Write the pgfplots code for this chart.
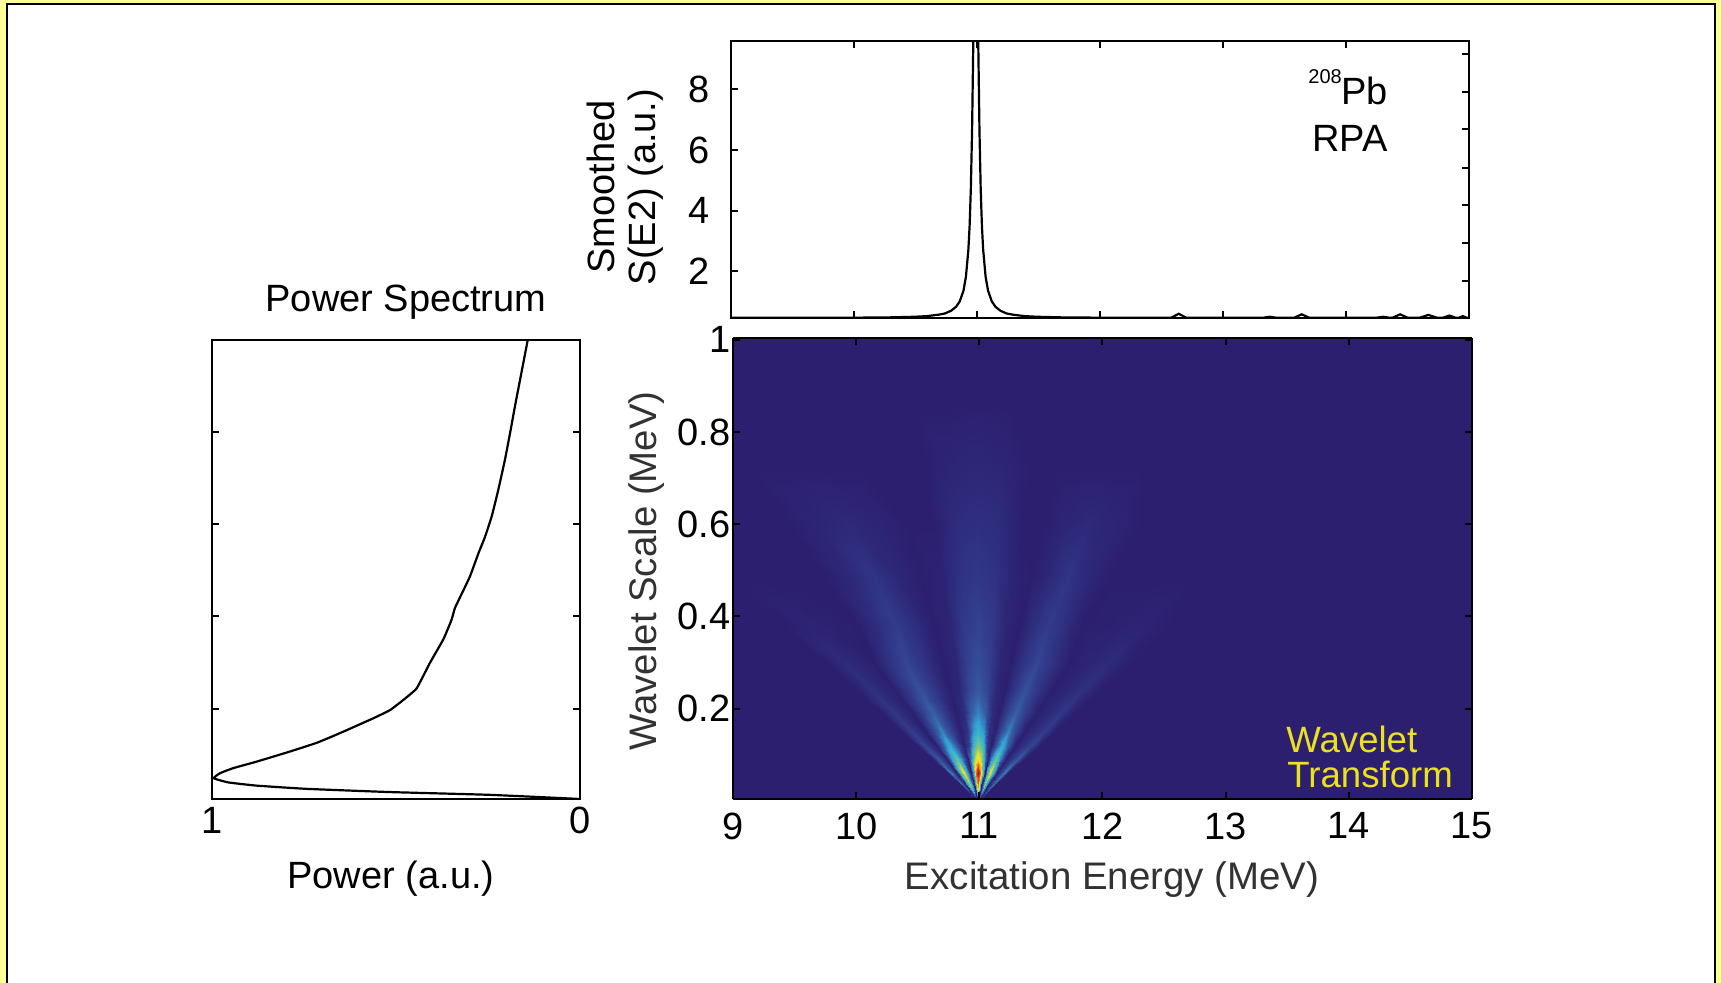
\documentclass[border=0pt]{standalone}
\usepackage{pgfplots}
\pgfplotsset{compat=1.18}
\usepackage{fontspec}
\setmainfont{Liberation Sans}
\definecolor{frameyellow}{RGB}{255,255,153}
\definecolor{heatbg}{RGB}{44,31,112}
\definecolor{blurtext}{RGB}{50,50,50}
\newcommand{\bigf}{\fontsize{19}{22}\selectfont}
\pgfplotsset{
  base/.style={
    scale only axis,
    axis line style={black,line width=1.3pt},
    tick style={black,line width=1pt},
    major tick length=3.5pt,
    tick align=inside,
    tick label style={font=\bigf},
    /pgf/number format/assume math mode=true,
  },
  colormap={heat}{
    rgb255(0pt)=(44,31,112);
    rgb255(1pt)=(50,60,140);
    rgb255(2pt)=(55,95,165);
    rgb255(3pt)=(50,160,215);
    rgb255(4pt)=(70,185,190);
    rgb255(5pt)=(125,195,130);
    rgb255(6pt)=(200,215,70);
    rgb255(7pt)=(245,230,40);
    rgb255(8pt)=(240,130,40);
    rgb255(9pt)=(220,50,40);
    rgb255(10pt)=(140,30,35)
  },
}
\begin{document}
\begin{tikzpicture}
\path[use as bounding box] (0,0) rectangle (860.5pt,491.5pt);
\begin{scope}[x=.5pt,y=-.5pt,yshift=491.5pt]
  \fill[frameyellow] (0,0) rectangle (1721,983);
  \fill[white] (6,4) rectangle (1715,983);
  \draw[black,line width=1pt] (6.5,983) -- (6.5,4.5) -- (1715,4.5) -- (1715,983);
\end{scope}

% top spectrum
\begin{axis}[base,at={(365.5pt,332.5pt)},anchor=south west,width=369pt,height=138.5pt,
  xmin=9,xmax=15,ymin=0.46,ymax=9.6,
  xtick={10,11,12,13,14},xticklabels={},
  yticklabel style={xshift=-7pt},
  ytick={2,4,6,8},ytick pos=left]
\addplot[black,line width=1.1pt,mark=none] coordinates {
(9,.47)(10,.47)(10.29,.48)(10.49,.50)(10.59,.52)(10.69,.57)(10.74,.61)(10.79,.70)(10.83,.83)(10.86,1.01)(10.89,1.36)(10.91,1.82)(10.93,2.72)(10.94,3.5)(10.95,4.73)(10.96,6.65)(10.97,9.6)(10.98,13.3)(10.99,15)(11.0,13.3)(11.01,9.6)(11.02,6.65)(11.03,4.73)(11.04,3.5)(11.05,2.72)(11.07,1.82)(11.09,1.36)(11.12,1.01)(11.15,.83)(11.19,.7)(11.24,.61)(11.29,.57)(11.39,.52)(11.49,.5)(11.69,.48)(12,.47)(12.58,.47)(12.64,.6)(12.70,.47)(13.33,.47)(13.38,.5)(13.43,.47)(13.58,.47)(13.64,.58)(13.7,.47)(14.25,.47)(14.3,.5)(14.35,.47)(14.38,.47)(14.44,.58)(14.5,.47)(14.6,.47)(14.67,.56)(14.74,.47)(14.79,.47)(14.84,.54)(14.89,.47)(14.92,.47)(14.95,.52)(14.98,.47)(15,.47)
};
\end{axis}
\begin{axis}[base,at={(365.5pt,332.5pt)},anchor=south west,width=369pt,height=138.5pt,
  xmin=9,xmax=15,ymin=0.46,ymax=9.6,
  xtick=\empty,
  ytick={1.69,2.92,4.19,5.4,6.68,7.91,9.18},yticklabels={},ytick pos=right]
\addplot[draw=none,forget plot] coordinates {(9,1)(15,1)};
\end{axis}

% left power spectrum
\begin{axis}[base,at={(106pt,92pt)},anchor=south west,width=184pt,height=229.5pt,
  x dir=reverse,xmin=0,xmax=1,ymin=0.004,ymax=1,
  xtick={0,1},xticklabels={0,1},
  xticklabel style={yshift=-.5pt},
  ytick={.2,.4,.6,.8},yticklabels={}]
\addplot[black,line width=1.1pt,mark=none,smooth,tension=0.25] coordinates {
(.142,1.0)(.163,.913)(.177,.855)(.19,.798)(.204,.74)(.222,.675)(.24,.617)(.258,.573)(.276,.537)(.299,.487)(.321,.45)(.34,.418)(.349,.393)(.371,.351)(.408,.299)(.444,.244)(.48,.219)(.516,.197)(.562,.179)(.652,.147)(.715,.126)(.788,.107)(.879,.085)(.942,.071)(.978,.06)(.995,.049)(.956,.04)(.879,.033)(.743,.026)(.516,.019)(.245,.013)(0,.004)
};
\end{axis}

% wavelet map
\begin{axis}[base,at={(366.5pt,92pt)},anchor=south west,width=369.5pt,height=230.5pt,
  view={0}{90},colormap name=heat,
  axis line style={black,line width=.9pt},
  xmin=9,xmax=15,ymin=0.004,ymax=1.004,
  point meta min=0,point meta max=1,
  axis background/.style={fill=heatbg},
  axis on top,
  xtick={9,10,11,12,13,14,15},
  xticklabel style={yshift=-3.3pt},
  yticklabel style={xshift=2.2pt},
  ytick={.2,.4,.6,.8,1},yticklabels={0.2,0.4,0.6,0.8,\raisebox{-1.5pt}{1}},
  ztick=\empty,
  clip=true]
\addplot3[surf,shader=interp,mesh/cols=21] coordinates {
(10.970,.005,0)(10.972,.005,.03)(10.974,.005,.015)(10.976,.005,0)(10.978,.005,.07)(10.980,.005,.12)(10.983,.005,.07)(10.985,.005,0)(10.987,.005,.12)(10.989,.005,.25)(10.990,.005,.3)(10.992,.005,.25)(10.993,.005,.12)(10.995,.005,0)(10.996,.005,.07)(10.998,.005,.12)(11.000,.005,.07)(11.003,.005,0)(11.005,.005,.015)(11.008,.005,.03)(11.011,.005,0)

(10.867,.03,0)(10.882,.03,.22)(10.894,.03,.11)(10.906,.03,0)(10.918,.03,.28)(10.932,.03,.5)(10.947,.03,.28)(10.962,.03,0)(10.972,.03,.31)(10.981,.03,.66)(10.99,.03,.78)(10.999,.03,.66)(11.008,.03,.31)(11.017,.03,0)(11.026,.03,.28)(11.038,.03,.5)(11.05,.03,.28)(11.065,.03,0)(11.082,.03,.11)(11.097,.03,.22)(11.113,.03,0)

(10.744,.06,0)(10.774,.06,.26)(10.798,.06,.13)(10.822,.06,0)(10.846,.06,.37)(10.873,.06,.68)(10.903,.06,.37)(10.933,.06,0)(10.954,.06,.4)(10.972,.06,.85)(10.99,.06,1)(11.008,.06,.85)(11.026,.06,.4)(11.044,.06,0)(11.062,.06,.37)(11.086,.06,.68)(11.11,.06,.37)(11.14,.06,0)(11.173,.06,.13)(11.203,.06,.26)(11.236,.06,0)

(10.621,.09,0)(10.666,.09,.18)(10.702,.09,.09)(10.738,.09,0)(10.774,.09,.26)(10.815,.09,.48)(10.86,.09,.26)(10.905,.09,0)(10.936,.09,.25)(10.963,.09,.6)(10.99,.09,.72)(11.017,.09,.6)(11.044,.09,.25)(11.071,.09,0)(11.098,.09,.26)(11.134,.09,.48)(11.17,.09,.26)(11.215,.09,0)(11.265,.09,.09)(11.31,.09,.18)(11.359,.09,0)

(10.498,.12,0)(10.558,.12,.13)(10.606,.12,.065)(10.654,.12,0)(10.702,.12,.18)(10.756,.12,.35)(10.816,.12,.18)(10.876,.12,0)(10.918,.12,.1)(10.954,.12,.4)(10.99,.12,.52)(11.026,.12,.4)(11.062,.12,.1)(11.098,.12,0)(11.134,.12,.18)(11.182,.12,.35)(11.23,.12,.18)(11.29,.12,0)(11.356,.12,.065)(11.416,.12,.13)(11.482,.12,0)

(10.375,.15,0)(10.45,.15,.1)(10.51,.15,.05)(10.57,.15,0)(10.63,.15,.13)(10.698,.15,.26)(10.773,.15,.13)(10.848,.15,0)(10.9,.15,.06)(10.945,.15,.28)(10.99,.15,.37)(11.035,.15,.28)(11.08,.15,.06)(11.125,.15,0)(11.17,.15,.13)(11.23,.15,.26)(11.29,.15,.13)(11.365,.15,0)(11.448,.15,.05)(11.523,.15,.1)(11.605,.15,0)

(10.211,.19,0)(10.306,.19,.08)(10.382,.19,.04)(10.458,.19,0)(10.534,.19,.1)(10.62,.19,.2)(10.715,.19,.1)(10.81,.19,0)(10.876,.19,.04)(10.933,.19,.19)(10.99,.19,.26)(11.047,.19,.19)(11.104,.19,.04)(11.161,.19,0)(11.218,.19,.1)(11.294,.19,.2)(11.37,.19,.1)(11.465,.19,0)(11.57,.19,.04)(11.665,.19,.08)(11.769,.19,0)

(10.006,.24,0)(10.126,.24,.06)(10.222,.24,.03)(10.318,.24,0)(10.414,.24,.08)(10.522,.24,.16)(10.642,.24,.08)(10.762,.24,0)(10.846,.24,.03)(10.918,.24,.13)(10.99,.24,.18)(11.062,.24,.13)(11.134,.24,.03)(11.206,.24,0)(11.278,.24,.08)(11.374,.24,.16)(11.47,.24,.08)(11.59,.24,0)(11.722,.24,.03)(11.842,.24,.06)(11.974,.24,0)

(9.76,.3,0)(9.91,.3,.045)(10.03,.3,.022)(10.15,.3,0)(10.27,.3,.065)(10.405,.3,.13)(10.555,.3,.065)(10.705,.3,0)(10.81,.3,.025)(10.9,.3,.11)(10.99,.3,.15)(11.08,.3,.11)(11.17,.3,.025)(11.26,.3,0)(11.35,.3,.065)(11.47,.3,.13)(11.59,.3,.065)(11.74,.3,0)(11.905,.3,.022)(12.055,.3,.045)(12.22,.3,0)

(9.432,.38,0)(9.622,.38,.015)(9.774,.38,.007)(10.021,.38,0)(10.173,.38,.05)(10.325,.38,.1)(10.477,.38,.05)(10.629,.38,0)(10.762,.38,.02)(10.876,.38,.09)(10.99,.38,.12)(11.104,.38,.09)(11.218,.38,.02)(11.332,.38,0)(11.427,.38,.05)(11.56,.38,.1)(11.693,.38,.05)(11.826,.38,0)(12.149,.38,.007)(12.339,.38,.015)(12.548,.38,0)

(9.022,.48,0)(9.262,.48,0)(9.454,.48,0)(9.766,.48,0)(9.958,.48,.03)(10.15,.48,.075)(10.342,.48,.03)(10.534,.48,0)(10.702,.48,.012)(10.846,.48,.065)(10.99,.48,.085)(11.134,.48,.065)(11.278,.48,.012)(11.422,.48,0)(11.542,.48,.03)(11.71,.48,.075)(11.878,.48,.03)(12.046,.48,0)(12.454,.48,0)(12.694,.48,0)(12.958,.48,0)

(8.53,.6,0)(8.83,.6,0)(9.07,.6,0)(9.46,.6,0)(9.70,.6,.02)(9.94,.6,.035)(10.18,.6,.02)(10.42,.6,0)(10.63,.6,0)(10.81,.6,.045)(10.99,.6,.055)(11.17,.6,.045)(11.35,.6,0)(11.53,.6,0)(11.68,.6,.02)(11.89,.6,.035)(12.10,.6,.02)(12.31,.6,0)(12.82,.6,0)(13.12,.6,0)(13.45,.6,0)

(8.038,.72,0)(8.398,.72,0)(8.686,.72,0)(9.154,.72,0)(9.442,.72,0)(9.73,.72,0)(10.018,.72,0)(10.306,.72,0)(10.558,.72,0)(10.774,.72,.02)(10.99,.72,.03)(11.206,.72,.02)(11.422,.72,0)(11.638,.72,0)(11.818,.72,0)(12.07,.72,0)(12.322,.72,0)(12.574,.72,0)(13.186,.72,0)(13.546,.72,0)(13.942,.72,0)

(7.505,.85,0)(7.93,.85,0)(8.27,.85,0)(8.61,.85,0)(8.95,.85,0)(9.333,.85,0)(9.758,.85,0)(10.183,.85,0)(10.48,.85,0)(10.735,.85,0)(10.99,.85,.006)(11.245,.85,0)(11.5,.85,0)(11.755,.85,0)(12.01,.85,0)(12.35,.85,0)(12.69,.85,0)(13.115,.85,0)(13.583,.85,0)(14.008,.85,0)(14.475,.85,0)
};
\end{axis}

\begin{scope}[x=.5pt,y=-.5pt,yshift=491.5pt]
  \node[font=\bigf] at (406,302) {Power Spectrum};
  \node[font=\bigf] at (391,879) {Power (a.u.)};
  \node[font=\fontsize{19.2}{22}\selectfont,text=blurtext] at (1112,880) {Excitation Energy (MeV)};
  \node[font=\fontsize{19.2}{22}\selectfont,text=blurtext,rotate=90] at (647,571) {Wavelet Scale (MeV)};
  \node[font=\bigf,rotate=90] at (601,187) {Smoothed};
  \node[font=\bigf,rotate=90] at (646,187) {S(E2) (a.u.)};
  \node[font=\bigf,anchor=west,inner sep=0pt] at (1341,91) {Pb};
  \node[font=\fontsize{10}{12}\selectfont,anchor=west,inner sep=0pt] at (1308,77) {208};
  \node[font=\bigf,anchor=east,inner sep=0pt] at (1388,138) {RPA};
  \node[font=\fontsize{18.3}{22}\selectfont,text={rgb,255:red,235;green,225;blue,30},anchor=west,inner sep=0pt] at (1286,739) {Wavelet};
  \node[font=\fontsize{18.3}{22}\selectfont,text={rgb,255:red,235;green,225;blue,30},anchor=west,inner sep=0pt] at (1287,774) {Transform};
\end{scope}
\end{tikzpicture}
\end{document}
